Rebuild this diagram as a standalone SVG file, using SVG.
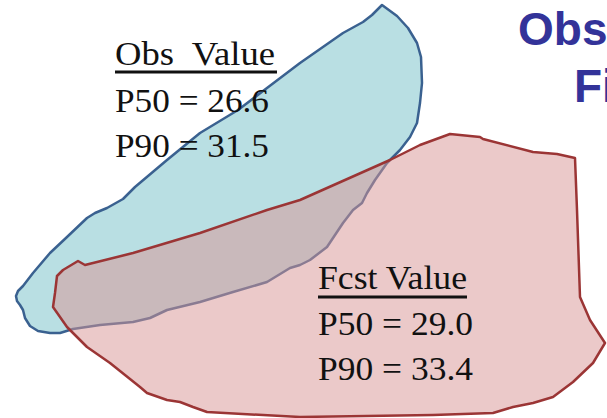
<svg xmlns="http://www.w3.org/2000/svg" width="607" height="418" viewBox="0 0 607 418">
<style>
.obs{fill:#B9DFE3;stroke:#3A6190;stroke-width:2.5;stroke-linejoin:round}
.fcst{fill:rgb(216,149,149);fill-opacity:0.51;stroke:#9B3535;stroke-width:2.5;stroke-linejoin:round}
.lbl{font-family:"Liberation Serif","Times New Roman",serif;font-size:34px;fill:#111}
.ttl{font-family:"Liberation Sans",Arial,sans-serif;font-weight:bold;font-size:46px;fill:#333399}
.ul{stroke:#111;stroke-width:3}
</style>
<rect width="607" height="418" fill="#fff"/>
<g id="title">
<text class="ttl" x="518" y="45">Obs</text>
<text class="ttl" x="574" y="102">Fi</text>
</g>
<g id="obs-region">
<path class="obs" d="M382,5 L397,16 L408,28 L417,43 L421,57 L422,83 L420,103 L417,123 L410,137 L400,150 L387,163 L375,180 L367,193 L362,203 L353,210 L343,223 L327,247 L310,260 L300,265 L290,268 L267,282 L233,292 L200,302 L167,310 L150,318 L133,322 L100,325 L73,329 L60,333 L50,333 L38,331 L30,326 L25,318 L23,310 L20,305 L17,301 L16,296 L18,291 L23,286 L33,273 L50,253 L67,237 L87,218 L95,213 L107,208 L123,199 L135,187 L167,160 L200,133 L238,110 L267,88 L300,63 L343,33 L363,22 L372,15 Z"/>
</g>
<g id="fcst-region">
<path class="fcst" d="M85,265 L78,261 L63,270 L57,276 L55,293 L53,307 L67,327 L87,347 L110,363 L140,387 L147,393 L167,400 L180,402 L193,407 L207,412 L300,417 L433,415 L493,413 L513,407 L533,403 L553,397 L573,382 L593,363 L605,343 L590,320 L580,297 L577,210 L575,158 L557,154 L533,152 L483,139 L480,137 L450,134 L420,145 L390,160 L300,200 L267,210 L200,233 L133,253 Z"/>
</g>
<g id="obs-label">
<text class="lbl" x="115" y="65" textLength="160" lengthAdjust="spacingAndGlyphs" xml:space="preserve">Obs  Value</text>
<line class="ul" x1="115" y1="72" x2="277" y2="72"/>
<text class="lbl" x="115" y="112" textLength="154" lengthAdjust="spacingAndGlyphs">P50 = 26.6</text>
<text class="lbl" x="115" y="157" textLength="154" lengthAdjust="spacingAndGlyphs">P90 = 31.5</text>
</g>
<g id="fcst-label">
<text class="lbl" x="318" y="289" textLength="149" lengthAdjust="spacingAndGlyphs">Fcst Value</text>
<line class="ul" x1="318" y1="297" x2="467" y2="297"/>
<text class="lbl" x="318" y="335" textLength="155" lengthAdjust="spacingAndGlyphs">P50 = 29.0</text>
<text class="lbl" x="318" y="380" textLength="155" lengthAdjust="spacingAndGlyphs">P90 = 33.4</text>
</g>
</svg>
